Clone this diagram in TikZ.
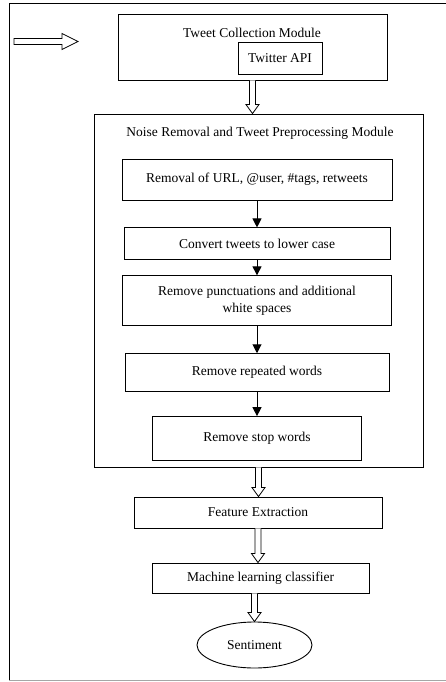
\documentclass[tikz,border=0pt]{standalone}
\usepackage{fontspec}
\setmainfont{Liberation Serif}
\usetikzlibrary{arrows.meta, positioning, calc, shapes.geometric}

% open block arrow pointing down, from #1 to the y of #2
\newcommand{\hollowdown}[2]{%
  \draw[line width=0.8pt, fill=white] let \p1=(#1), \p2=(#2) in
    (\x1-3pt,\y1) -- (\x1-3pt,\y2+9pt) -- (\x1-6.5pt,\y2+9pt) -- (\x1,\y2)
    -- (\x1+6.5pt,\y2+9pt) -- (\x1+3pt,\y2+9pt) -- (\x1+3pt,\y1);}

\begin{document}
\begin{tikzpicture}[
  x=1pt, y=-1pt,
  font=\fontsize{13.5}{17.5}\selectfont,
  box/.style={draw, line width=0.9pt, rectangle, align=center, inner sep=2pt},
  arrow/.style={-{Triangle[length=9pt, width=9pt]}, line width=1pt}
]

% page and outer frame
\useasboundingbox (0,0) rectangle (446,682);
\draw[line width=0.8pt] (450,3) -- (9,3) -- (9,680);
\draw[line width=0.8pt, black!35] (9,680) -- (450,680);

% input arrow
\coordinate (feed) at (14,41.5);
\draw[line width=0.8pt] ($(feed)+(0,-3)$) -- ++(48,0) -- ++(0,-5) -- ($(feed)+(64,0)$)
  -- ($(feed)+(48,8)$) -- ++(0,-5) -- ($(feed)+(0,3)$) -- cycle;

% Tweet collection module
\node[box, minimum width=269pt, minimum height=66pt] (collect) at (252.5,47) {};
\node[anchor=base] (collecttitle) at (252,37.5) {Tweet Collection Module};
\node[box, minimum width=84pt, minimum height=32pt] (api) at (280,58) {Twitter API};

% Noise removal module
\node[box, minimum width=329pt, minimum height=353pt] (noise) at (258.5,290.5) {};
\node[anchor=base] (noisetitle) at (260,136.5) {Noise Removal and Tweet Preprocessing Module};

% Steps (top to bottom)
\node[box, minimum width=270pt, minimum height=41pt] (url) at (257,179.5) {Removal of URL, @user, \#tags, retweets};
\node[box, minimum width=266pt, minimum height=32pt, below=27pt of url] (lower) {Convert tweets to lower case};
\node[box, minimum width=269pt, minimum height=50pt, below=15pt of lower] (punct) {Remove punctuations and additional\\white spaces};
\node[box, minimum width=264pt, minimum height=38pt, below=27pt of punct] (repeated) {Remove repeated words};
\node[box, minimum width=209pt, minimum height=44pt, below=24pt of repeated] (stop) {Remove stop words};

\draw[arrow] (url) -- (lower);
\draw[arrow] (lower) -- (punct);
\draw[arrow] (punct) -- (repeated);
\draw[arrow] (repeated) -- (stop);

% Classification
\node[box, minimum width=248pt, minimum height=31pt] (feature) at (258,512.5) {Feature Extraction};
\node[box, minimum width=217pt, minimum height=30pt] (ml) at (260.5,578) {Machine learning classifier};
\node[draw, ellipse, line width=0.9pt, minimum width=115pt, minimum height=46pt, inner sep=0pt] (sentiment) at (254.5,645) {Sentiment};

\hollowdown{collect.south}{noise.north}
\hollowdown{noise.south}{feature.north}
\hollowdown{feature.south}{ml.north}
\hollowdown{ml.south -| sentiment}{sentiment.north}

\end{tikzpicture}
\end{document}
